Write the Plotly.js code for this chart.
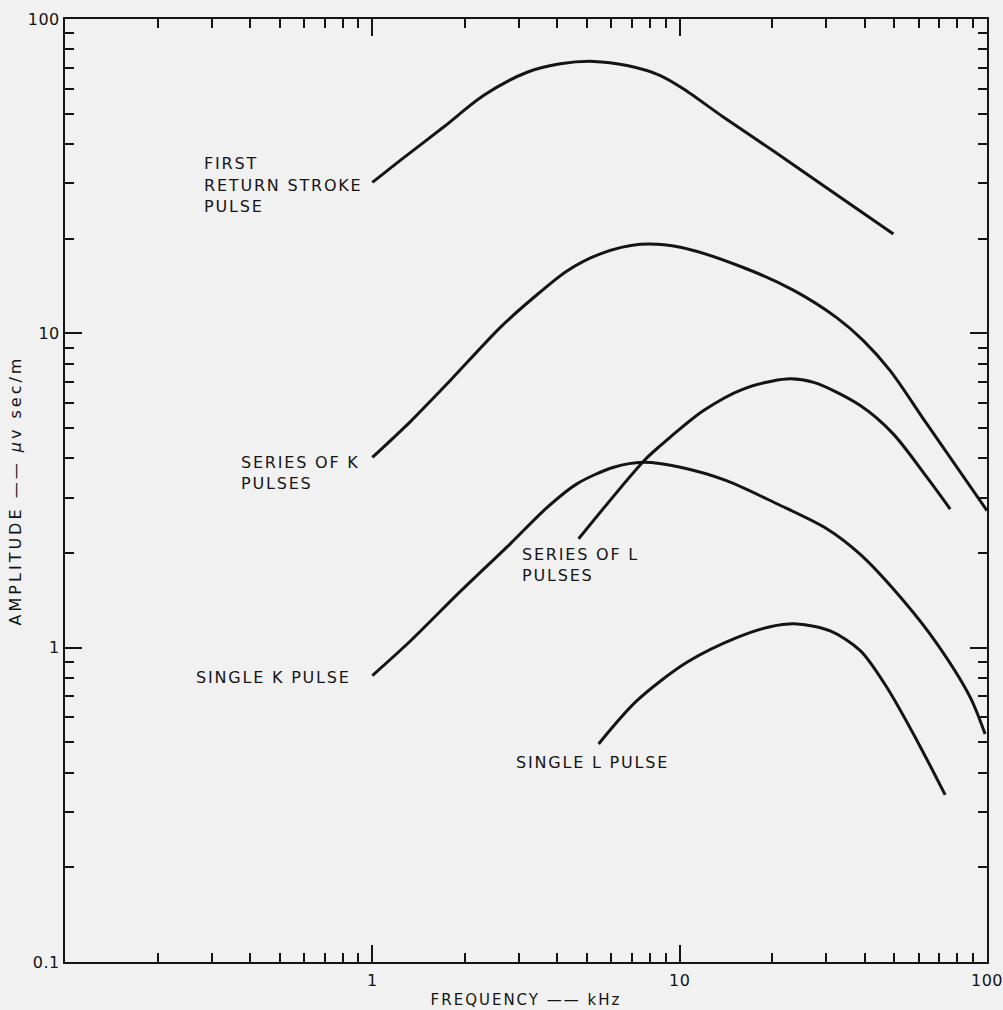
<!DOCTYPE html>
<html>
<head>
<meta charset="utf-8">
<script src="https://cdn.plot.ly/plotly-3.0.1.min.js"></script>
<style>
  html, body { margin: 0; padding: 0; background: #f1f1f1; }
  #chart { width: 1003px; height: 1010px; }
  .annotation-text { letter-spacing: 1.8px; }
  .g-xtitle text { letter-spacing: 2px; }
  .g-ytitle text { letter-spacing: 3px; }
  .xtick text, .ytick text { letter-spacing: 0.5px; }
</style>
</head>
<body>
<div id="chart"></div>
<script>
// Frequency (kHz) and amplitude (µv sec/m)
const freqFirst = [1.0, 1.26, 1.71, 2.30, 3.19, 4.09, 5.25, 6.74, 8.65, 10.3, 13.9, 20.2, 29.4, 49.6];
const ampFirst  = [30.2, 36.1, 45.4, 57.1, 67.7, 72.0, 73.3, 71.1, 66.1, 59.9, 48.7, 38.0, 29.5, 20.7];

const freqSeriesK = [1.0, 1.33, 1.79, 2.61, 3.35, 4.30, 5.52, 7.44, 10.05, 16.1, 23.5, 32.5, 39.6, 48.4, 63.8, 100];
const ampSeriesK  = [4.03, 5.24, 7.07, 10.45, 13.0, 15.8, 17.9, 19.2, 18.8, 16.2, 13.7, 11.2, 9.48, 7.61, 5.14, 2.73];

const freqSeriesL = [4.69, 7.63, 8.65, 11.96, 16.1, 22.3, 27.3, 38.7, 49.6, 63.8, 75.9];
const ampSeriesL  = [2.22, 3.92, 4.39, 5.68, 6.65, 7.16, 6.98, 5.89, 4.78, 3.48, 2.76];

const freqSingleK = [1.0, 1.33, 1.93, 2.81, 3.70, 4.63, 6.10, 7.63, 10.05, 14.2, 20.7, 30.1, 38.7, 53.5, 68.7, 88.2, 98.6];
const ampSingleK  = [0.815, 1.05, 1.507, 2.14, 2.79, 3.32, 3.75, 3.89, 3.75, 3.40, 2.87, 2.39, 1.98, 1.41, 1.03, 0.695, 0.531];

const freqSingleL = [5.45, 7.26, 10.56, 15.4, 19.7, 24.1, 30.9, 38.7, 47.2, 59.2, 73.1];
const ampSingleL  = [0.494, 0.678, 0.898, 1.078, 1.166, 1.19, 1.13, 0.978, 0.748, 0.506, 0.34];

const seriesNames = ["FIRST RETURN STROKE PULSE", "SERIES OF K PULSES", "SERIES OF L PULSES", "SINGLE K PULSE", "SINGLE L PULSE"];

const decadeVals = [0.1, 1, 10, 100];
const decadeText = ["0.1", "1", "10", "100"];
const minorVals = [];
[0.1, 1, 10].forEach(d => { for (let k = 2; k <= 9; k++) minorVals.push(+(d * k).toPrecision(3)); });

// Label text lines and their placement (pixel positions of left edge / line centre)
const labelLines = [
  { text: "FIRST", px: 202, py: 163 },
  { text: "RETURN STROKE", px: 202, py: 185 },
  { text: "PULSE", px: 202, py: 207 },
  { text: "SERIES OF K", px: 239, py: 462 },
  { text: "PULSES", px: 239, py: 483 },
  { text: "SERIES OF L", px: 520, py: 554 },
  { text: "PULSES", px: 520, py: 575 },
  { text: "SINGLE K PULSE", px: 194, py: 677 },
  { text: "SINGLE L PULSE", px: 514, py: 762 }
];

const M = { l: 65, r: 16, t: 19, b: 48 };
const W = 1003, H = 1010;
const pw = W - M.l - M.r, ph = H - M.t - M.b;

const ink = "#141414";
const fam = "DejaVu Sans, Liberation Sans, sans-serif";
const labelFont = { family: fam, size: 16, color: ink };
const tickFont = { family: fam, size: 16, color: ink };
const xTitleFont = { family: fam, size: 15, color: ink };
const yTitleFont = { family: fam, size: 16, color: ink };

const xs = [freqFirst, freqSeriesK, freqSeriesL, freqSingleK, freqSingleL];
const ys = [ampFirst, ampSeriesK, ampSeriesL, ampSingleK, ampSingleL];

const traces = xs.map((x, i) => ({
  x: x, y: ys[i], name: seriesNames[i],
  type: "scatter", mode: "lines",
  line: { color: ink, width: 3, shape: "spline", smoothing: 0.85 },
  hoverinfo: "x+y+name"
}));

const annotations = labelLines.map(l => ({
  text: l.text, xref: "paper", yref: "paper",
  x: (l.px - M.l) / pw, y: (H - M.b - l.py) / ph,
  xanchor: "left", yanchor: "middle", showarrow: false,
  font: labelFont, align: "left"
}));

const axisCommon = {
  type: "log", range: [-1, 2],
  showgrid: false, zeroline: false,
  showline: true, linecolor: ink, linewidth: 2,
  ticks: "inside", ticklen: 17, tickwidth: 1.5, tickcolor: ink,
  mirror: "allticks", tickmode: "array",
  tickfont: tickFont, automargin: false, ticklabeloverflow: "allow",
  minor: { tickmode: "array", tickvals: minorVals, ticks: "inside", ticklen: 9, tickwidth: 1.5, tickcolor: ink, showgrid: false }
};

const layout = {
  width: W, height: H,
  margin: M,
  paper_bgcolor: "#f1f1f1", plot_bgcolor: "#f1f1f1",
  showlegend: false,
  font: labelFont,
  xaxis: Object.assign({}, axisCommon, {
    tickvals: decadeVals.slice(1), ticktext: decadeText.slice(1),
    ticklabelstandoff: 3,
    title: { text: "FREQUENCY —— kHz", font: xTitleFont, standoff: 5 }
  }),
  yaxis: Object.assign({}, axisCommon, {
    tickvals: decadeVals, ticktext: decadeText,
    ticklabelstandoff: 0,
    title: { text: "AMPLITUDE —— <i>μ</i>v sec/m", font: yTitleFont, standoff: 2 }
  }),
  annotations: annotations
};

Plotly.newPlot("chart", traces, layout, { displayModeBar: false });
</script>
</body>
</html>
